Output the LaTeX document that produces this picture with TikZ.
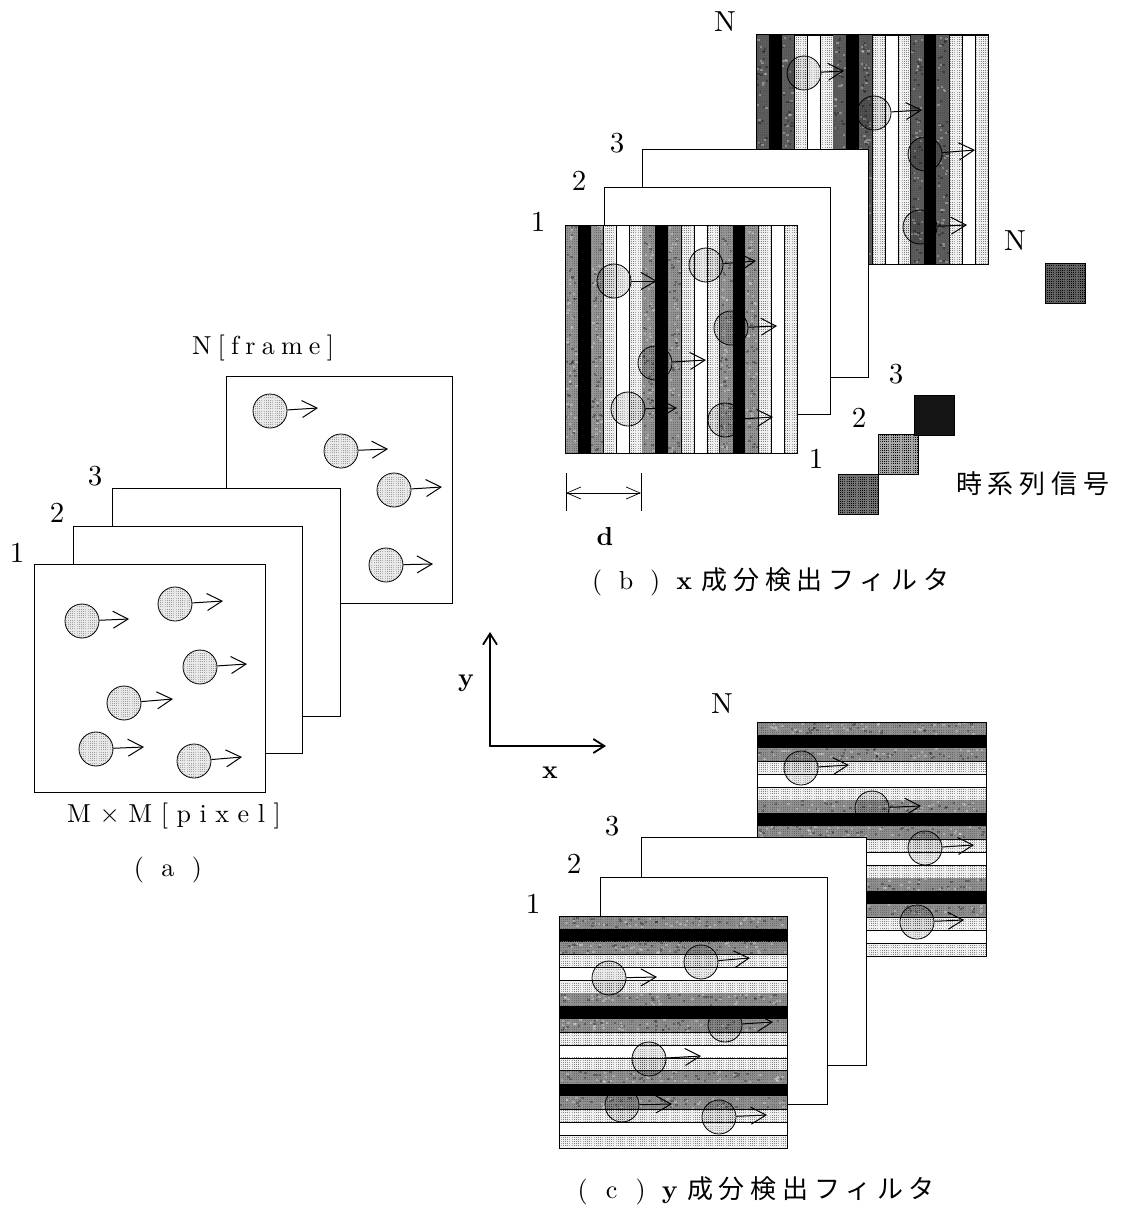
\documentclass[tikz,border=0pt]{standalone}
\usepackage{fontspec}
\usetikzlibrary{arrows.meta,patterns}
\setmainfont[Extension=.otf,BoldFont=lmroman10-bold]{lmroman10-regular}
\newfontfamily\widefont[Extension=.otf,LetterSpace=24]{lmroman10-regular}
\newfontfamily\widerfont[Extension=.otf,LetterSpace=33]{lmroman10-regular}
\newfontfamily\cjkfont[LetterSpace=22]{Noto Sans CJK JP}
\pgfdeclarepatternformonly{stipple}{\pgfqpoint{-0.5pt}{-0.5pt}}{\pgfqpoint{0.6pt}{0.6pt}}{\pgfqpoint{2.2pt}{2.2pt}}{%
  \pgfpathrectangle{\pgfqpoint{-0.5pt}{-0.5pt}}{\pgfqpoint{1pt}{1pt}}\pgfusepath{fill}}
\tikzset{
  framebox/.style={draw=black,line width=1pt,fill=white,inner sep=0pt,anchor=north west},
  ball/.style={circle,draw=black,line width=0.8pt,inner sep=0pt,minimum size=34pt,fill=black!9,blend mode=multiply,
    postaction={pattern=stipple,pattern color=black!32}},
  move/.style={draw=black,line width=1pt,-{Straight Barb[length=15pt,width=17pt,line width=1pt]}},
  num/.style={font=\fontsize{29}{29}\selectfont,inner sep=0pt},
  lab/.style={font=\fontsize{26}{26}\selectfont,inner sep=0pt},
  stripeline/.style={draw=black,line width=0.5pt},
  tile/.style={draw=black,line width=0.6pt,inner sep=0pt,minimum size=40pt,anchor=north west},
  axisline/.style={draw=black,line width=1.8pt,-{Straight Barb[length=11pt,width=14pt,line width=1.8pt]}},
  darrow/.style={draw=black,line width=0.7pt,{Straight Barb[length=14pt,width=12pt]}-{Straight Barb[length=14pt,width=12pt]}}
}
\newcommand{\specks}[4]{%
  \foreach \k in {1,...,70}{%
    \pgfmathsetmacro{\px}{#1+rnd*(#3-#1-2.4)}\pgfmathsetmacro{\py}{#2+rnd*(#4-#2-2.4)}%
    \pgfmathtruncatemacro{\pc}{mod(\k,2)}%
    \ifnum\pc=0 \fill[white,opacity=0.3] (\px,\py) rectangle ++(2.4,2);
    \else \fill[black,opacity=0.3] (\px,\py) rectangle ++(2.4,2);\fi}}
% one stripe: x0 y0 x1 y1 index gray
\newcommand{\paintstripe}[6]{%
  \pgfmathtruncatemacro{\kind}{mod(#5,6)}%
  \ifnum\kind=1 \fill[black] (#1,#2) rectangle (#3,#4);
  \else\ifnum\kind=4 \fill[white] (#1,#2) rectangle (#3,#4);
    \draw[stripeline] (#1,#2) rectangle (#3,#4);
  \else\ifnum\kind=0 \fill[black!#6] (#1,#2) rectangle (#3,#4);
    \fill[pattern=stipple,pattern color=black!60] (#1,#2) rectangle (#3,#4);
    \specks{#1}{#2}{#3}{#4}
  \else\ifnum\kind=2 \fill[black!#6] (#1,#2) rectangle (#3,#4);
    \fill[pattern=stipple,pattern color=black!60] (#1,#2) rectangle (#3,#4);
    \specks{#1}{#2}{#3}{#4}
  \else \fill[black!6] (#1,#2) rectangle (#3,#4);
    \fill[pattern=stipple,pattern color=black!50] (#1,#2) rectangle (#3,#4);
    \draw[stripeline] (#1,#2) rectangle (#3,#4);
  \fi\fi\fi\fi}
\newcommand{\vstripes}[5]{%
  \foreach \i in {0,...,17}{%
    \pgfmathsetmacro{\sa}{#1+(#3-#1)*\i/18}\pgfmathsetmacro{\sb}{#1+(#3-#1)*(\i+1)/18}%
    \paintstripe{\sa}{#2}{\sb}{#4}{\i}{#5}}}
\newcommand{\hstripes}[5]{%
  \foreach \i in {0,...,17}{%
    \pgfmathsetmacro{\sa}{#2+(#4-#2)*\i/18}\pgfmathsetmacro{\sb}{#2+(#4-#2)*(\i+1)/18}%
    \paintstripe{#1}{\sa}{#3}{\sb}{\i}{#5}}}
\newcommand{\ballarrow}[5]{%
  \node[ball] (#1) at (#2,#3) {};
  \coordinate (#1-tip) at (#4,#5);
  \draw[move] (#1) -- (#1-tip);}
\newcommand{\slot}[1]{\makebox[29pt][c]{#1}}
\begin{document}
\begin{tikzpicture}[x=1pt,y=-1pt]
\pgfmathsetseed{7}
\useasboundingbox (0,0) rectangle (1126,1212);
\fill[white] (0,0) rectangle (1126,1212);

%% ---------- panel (a)
\node[framebox,minimum width=226pt,minimum height=227pt] (aN) at (226,376) {};
\ballarrow{aN1}{270}{411}{318}{408}
\ballarrow{aN2}{341}{451}{388}{449}
\ballarrow{aN3}{394}{490}{442}{487}
\ballarrow{aN4}{386}{565}{433}{564}
\node[framebox,minimum width=228pt,minimum height=228pt] (a3) at (112,488) {};
\node[framebox,minimum width=229pt,minimum height=227pt] (a2) at (73,526) {};
\node[framebox,minimum width=231pt,minimum height=228pt] (a1) at (34,564) {};
\ballarrow{a11}{82}{621}{129}{619}
\ballarrow{a12}{175}{604}{223}{601}
\ballarrow{a13}{200}{667}{247}{664}
\ballarrow{a14}{124}{703}{173}{699}
\ballarrow{a15}{96}{749}{144}{747}
\ballarrow{a16}{194}{761}{242}{757}
\node[num] (la1) at (17,553) {1};
\node[num] (la2) at (57,513) {2};
\node[num] (la3) at (95,476) {3};
\node[lab] (laN) at (263,348) {\widefont N[frame]};
\node[lab] (laM) at (174,816) {\widerfont M×M[pixel]};
\node[lab] (lacap) at (168,870) {\slot{(}\slot{a}\slot{)}};

%% ---------- panel (b)
\vstripes{756}{35}{988}{264}{66}
\ballarrow{bN1}{804}{73}{844}{71}
\ballarrow{bN2}{874}{113}{922}{110}
\ballarrow{bN3}{925}{154}{975}{150}
\ballarrow{bN4}{920}{227}{967}{225}
\draw[line width=1pt] (756,35) rectangle (988,264);
\node[framebox,minimum width=226pt,minimum height=228pt] (b3) at (642,149) {};
\node[framebox,minimum width=226pt,minimum height=227pt] (b2) at (604,187) {};
\vstripes{565}{225}{797}{453}{42}
\ballarrow{b11}{614}{281}{657}{281}
\ballarrow{b12}{706}{265}{756}{261}
\ballarrow{b13}{731}{328}{777}{326}
\ballarrow{b14}{655}{363}{706}{360}
\ballarrow{b15}{628}{409}{677}{408}
\ballarrow{b16}{725}{420}{773}{417}
\draw[line width=1pt] (565,225) rectangle (797,453);
\node[num] (lb1) at (538,222) {1};
\node[num] (lb2) at (579,181) {2};
\node[num] (lb3) at (617,143) {3};
\node[num] (lbN) at (725,22) {N};
\node[num] (lsN) at (1015,241) {N};
\node[num] (ls3) at (896,374) {3};
\node[num] (ls2) at (859,418) {2};
\node[num] (ls1) at (816,459) {1};
\node[tile,fill=black!55,postaction={pattern=stipple,pattern color=black}] (s1) at (838,474) {};
\node[tile,fill=black!35,postaction={pattern=stipple,pattern color=black}] (s2) at (878,434) {};
\node[tile,fill=black!92] (s3) at (914,395) {};
\node[tile,fill=black!62,postaction={pattern=stipple,pattern color=black}] (sN) at (1045,263) {};
\node[font=\fontsize{26}{26}\selectfont\cjkfont,inner sep=0pt,anchor=west] (lts) at (956,484) {時系列信号};
\coordinate (dl) at (566,493);
\coordinate (dr) at (641,493);
\coordinate (dlt) at (566,473);
\coordinate (dlb) at (566,511);
\coordinate (drt) at (641,473);
\coordinate (drb) at (641,511);
\draw[line width=0.8pt] (dlt) -- (dlb);
\draw[line width=0.8pt] (drt) -- (drb);
\draw[darrow] (dl) -- (dr);
\node[font=\fontsize{26}{26}\selectfont\bfseries,inner sep=0pt] (ld) at (605,537) {d};
\node[font=\fontsize{26}{26}\selectfont,inner sep=0pt,anchor=west] (lbcap) at (582.5,582)
  {\slot{(}\slot{b}\slot{)}\slot{\textbf{x}}\hspace{3pt}{\cjkfont 成分検出フィルタ}};

%% ---------- axes
\coordinate (org) at (490,746);
\coordinate (yend) at (490,632);
\coordinate (xend) at (606,746);
\draw[axisline,line cap=round] (org) -- (yend);
\draw[axisline,line cap=round] (org) -- (xend);
\node[font=\fontsize{26}{26}\selectfont\bfseries,inner sep=0pt] (ly) at (466,683) {y};
\node[font=\fontsize{26}{26}\selectfont\bfseries,inner sep=0pt] (lx) at (550,773) {x};

%% ---------- panel (c)
\hstripes{757}{722}{986}{956}{44}
\ballarrow{cN1}{801}{768}{849}{765}
\ballarrow{cN2}{872}{808}{921}{806}
\ballarrow{cN3}{925}{848}{974}{845}
\ballarrow{cN4}{917}{922}{964}{920}
\draw[line width=1pt] (757,722) rectangle (986,956);
\node[framebox,minimum width=225pt,minimum height=228pt] (c3) at (641,837) {};
\node[framebox,minimum width=227pt,minimum height=227pt] (c2) at (600,877) {};
\hstripes{559}{916}{787}{1148}{44}
\ballarrow{c11}{609}{978}{657}{977}
\ballarrow{c12}{701}{962}{750}{958}
\ballarrow{c13}{725}{1025}{773}{1022}
\ballarrow{c14}{649}{1059}{701}{1056}
\ballarrow{c15}{622}{1105}{672}{1104}
\ballarrow{c16}{719}{1117}{767}{1115}
\draw[line width=1pt] (559,916) rectangle (787,1148);
\node[num] (lc1) at (533,904) {1};
\node[num] (lc2) at (574,864) {2};
\node[num] (lc3) at (612,826) {3};
\node[num] (lcN) at (722,704) {N};
\node[font=\fontsize{26}{26}\selectfont,inner sep=0pt,anchor=west] (lccap) at (568,1191)
  {\slot{(}\slot{c}\slot{)}\slot{\textbf{y}}\hspace{3pt}{\cjkfont 成分検出フィルタ}};
\end{tikzpicture}
\end{document}
